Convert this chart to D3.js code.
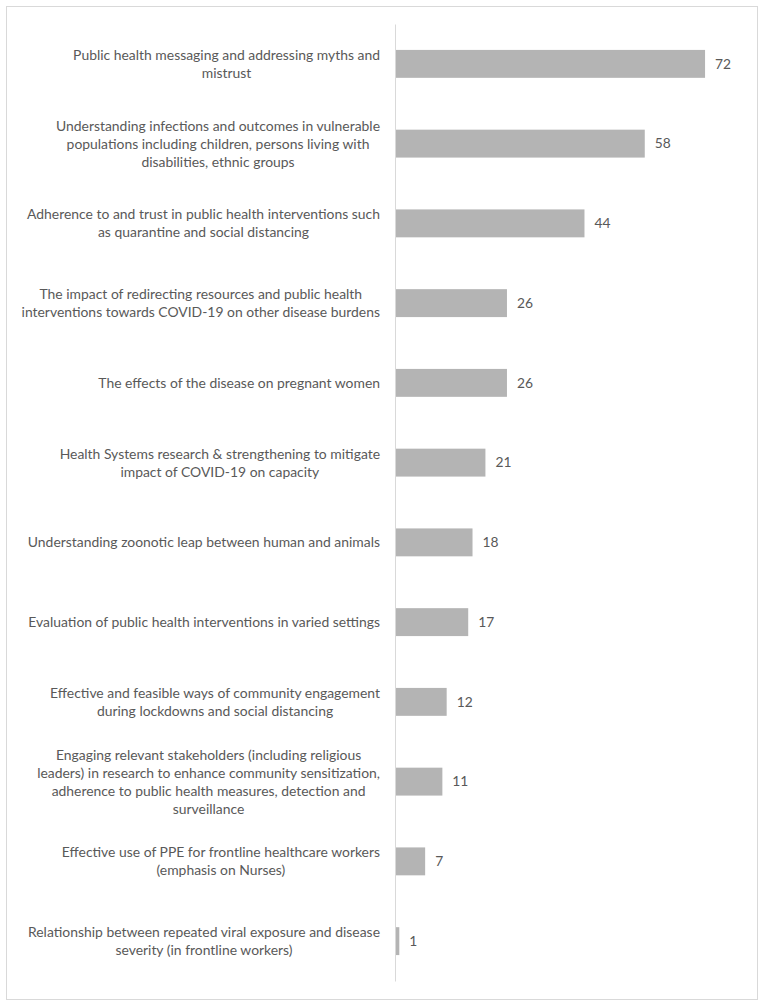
<!DOCTYPE html>
<html>
<head>
<meta charset="utf-8">
<script src="https://cdn.jsdelivr.net/npm/d3@7"></script>
<style>
  html, body { margin: 0; padding: 0; background: #fff; }
  svg { display: block; }
</style>
</head>
<body>
<svg id="chart" width="767" height="1008"></svg>
<script>
const categories = [
  "Public health messaging and addressing myths and\nmistrust",
  "Understanding infections and outcomes in vulnerable\npopulations including children, persons living with\ndisabilities, ethnic groups",
  "Adherence to and trust in public health interventions such\nas quarantine and social distancing",
  "The impact of redirecting resources and public health\ninterventions towards COVID-19 on other disease burdens",
  "The effects of the disease on pregnant women",
  "Health Systems research & strengthening to mitigate\nimpact of COVID-19 on capacity",
  "Understanding zoonotic leap between human and animals",
  "Evaluation of public health interventions in varied settings",
  "Effective and feasible ways of community engagement\nduring lockdowns and social distancing",
  "Engaging relevant stakeholders (including religious\nleaders) in research to enhance community sensitization,\nadherence to public health measures, detection and\nsurveillance",
  "Effective use of PPE for frontline healthcare workers\n(emphasis on Nurses)",
  "Relationship between repeated viral exposure and disease\nseverity (in frontline workers)"
];
const values = [72, 58, 44, 26, 26, 21, 18, 17, 12, 11, 7, 1];
const xDomain = [0, 80];

(function () {
const svg = d3.select("#chart");
const textColor = "#595959";
const fontFamily = "Lato, 'Open Sans', sans-serif";

// outer border
svg.append("rect")
  .attr("x", 6.5).attr("y", 6.5)
  .attr("width", 751).attr("height", 993)
  .attr("fill", "#fff")
  .attr("stroke", "#d9d9d9").attr("stroke-width", 1);

const axisX = 395, plotTop = 24, plotBottom = 981;

const x = d3.scaleLinear().domain(xDomain).range([axisX, 739.5]);
const y = d3.scaleBand()
  .domain(categories)
  .range([plotTop, plotBottom])
  .paddingInner(0.65)
  .paddingOuter(0.325);

// bars
svg.append("g").selectAll("rect")
  .data(values)
  .join("rect")
  .attr("x", x(0))
  .attr("y", (d, i) => y(categories[i]))
  .attr("width", d => x(d) - x(0))
  .attr("height", y.bandwidth())
  .attr("fill", "#b4b4b4");

// vertical axis line
const yAxis = d3.axisLeft(y).tickSize(0).tickFormat("");
const ag = svg.append("g").attr("transform", `translate(${axisX},0)`).call(yAxis);
ag.select(".domain").attr("stroke", "#d9d9d9").attr("stroke-width", 1);
ag.selectAll(".tick").remove();

// value labels
svg.append("g").selectAll("text")
  .data(values)
  .join("text")
  .attr("x", d => x(d) + 10)
  .attr("y", (d, i) => y(categories[i]) + y.bandwidth() / 2)
  .attr("dy", "0.35em")
  .attr("font-family", fontFamily)
  .attr("font-size", 13.8)
  .attr("fill", textColor)
  .text(d => d);

// category labels: block right-aligned at 380, lines centered inside block
const labelRight = 380;
const lineH = 18;
const lg = svg.append("g");
let fontSize = 14;
const blocks = categories.map((c, i) => {
  const lines = c.split("\n");
  const g = lg.append("g");
  const texts = lines.map(l => g.append("text")
    .attr("font-family", fontFamily)
    .attr("font-size", fontSize)
    .attr("fill", textColor)
    .attr("text-anchor", "middle")
    .text(l));
  return {g, lines, texts, cy: y(c) + y.bandwidth() / 2};
});
let maxW = 0;
blocks.forEach(b => b.texts.forEach(t => { maxW = Math.max(maxW, t.node().getComputedTextLength()); }));
fontSize = fontSize * 359 / maxW;
blocks.forEach(b => {
  b.texts.forEach(t => t.attr("font-size", fontSize));
  const w = d3.max(b.texts, t => t.node().getComputedTextLength());
  const cx = labelRight - w / 2;
  const n = b.lines.length;
  b.texts.forEach((t, k) => {
    t.attr("x", cx)
     .attr("y", b.cy + (k - (n - 1) / 2) * lineH)
     .attr("dy", "0.35em");
  });
});
})();
</script>
</body>
</html>
